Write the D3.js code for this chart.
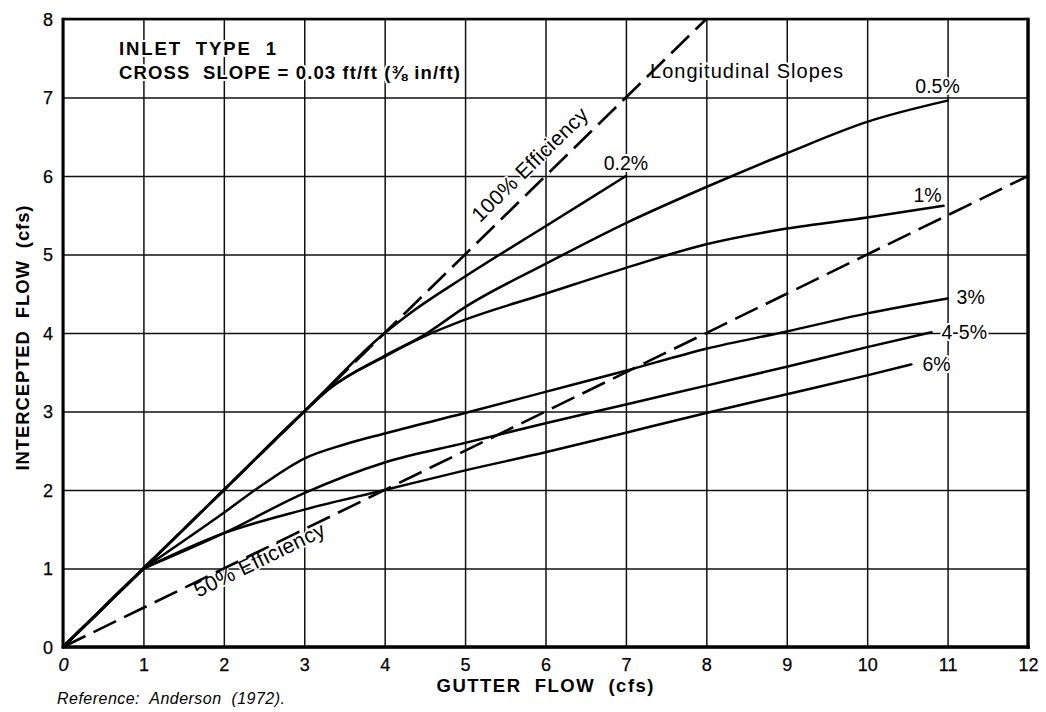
<!DOCTYPE html>
<html><head><meta charset="utf-8">
<script src="https://cdn.jsdelivr.net/npm/d3@7"></script>
<style>
html,body{margin:0;padding:0;background:#fff;}
svg{display:block;font-family:"Liberation Sans",Arial,Helvetica,sans-serif;}
</style></head><body>
<svg id="chart" width="1046" height="712"></svg>
<script>
// Axis ticks
const xTickValues = [0,1,2,3,4,5,6,7,8,9,10,11,12];
const yTickValues = [0,1,2,3,4,5,6,7,8];

// Intercepted flow (cfs) vs gutter flow (cfs), one curve per longitudinal slope
const slopeLabels = ["0.2%","0.5%","1%","3%","4-5%","6%"];
const slope02 = [[0,0],[1,1],[2,2],[3,3],[4,4],[4.3,4.24],[5,4.72],[6,5.36],[7,6.0]];
const slope05 = [[0,0],[1,1],[2,2],[3,3],[3.3,3.28],[4,3.71],[4.5,3.98],[5,4.33],[6,4.88],[7,5.4],[8,5.86],[9,6.29],[10,6.69],[11,6.96]];
const slope1  = [[0,0],[1,1],[2,2],[3,3],[3.3,3.28],[4,3.7],[4.5,3.96],[5,4.17],[6,4.5],[7,4.83],[8,5.13],[9,5.33],[10,5.47],[10.95,5.62]];
const slope3  = [[0,0],[1,1],[2,1.71],[2.5,2.08],[3,2.4],[3.5,2.58],[4,2.72],[5,2.98],[6,3.25],[7,3.52],[8,3.8],[9,4.02],[10,4.25],[11,4.44]];
const slope45 = [[0,0],[1,1],[2,1.45],[3,1.96],[4,2.35],[5,2.6],[6,2.85],[7,3.09],[8,3.33],[9,3.57],[10,3.82],[10.8,4.01]];
const slope6  = [[0,0],[1,1],[2,1.45],[3,1.75],[4,2.0],[5,2.25],[6,2.48],[7,2.73],[8,2.98],[9,3.22],[10,3.46],[10.55,3.6]];
const slopeSeries = [slope02, slope05, slope1, slope3, slope45, slope6];

// Reference efficiency lines
const efficiency100 = [[0,0],[8,8]];
const efficiency50  = [[0,0],[12,6]];

const svg = d3.select("#chart");
const plotLeft = 63, plotRight = 1028, plotTop = 19, plotBottom = 647;
const x = d3.scaleLinear().domain([0,12]).range([plotLeft, plotRight]);
const y = d3.scaleLinear().domain([0,8]).range([plotBottom, plotTop]);

svg.append("rect").attr("width",1046).attr("height",712).attr("fill","#fff");

// Grid + tick labels
const gx = svg.append("g").attr("transform",`translate(0,${plotBottom})`)
  .call(d3.axisBottom(x).tickValues(xTickValues).tickFormat(d3.format("d"))
        .tickSizeInner(-(plotBottom-plotTop)).tickSizeOuter(0).tickPadding(11));
const gy = svg.append("g").attr("transform",`translate(${plotLeft},0)`)
  .call(d3.axisLeft(y).tickValues(yTickValues).tickFormat(d3.format("d"))
        .tickSizeInner(-(plotRight-plotLeft)).tickSizeOuter(0).tickPadding(10));
[gx, gy].forEach(g => {
  g.select(".domain").remove();
  g.selectAll(".tick line").attr("stroke","#111").attr("stroke-width",1.5);
  g.selectAll(".tick text").attr("fill","#000").attr("font-size",18)
    .attr("stroke","#000").attr("stroke-width",0.25)
    .attr("font-family",'"Liberation Sans",Arial,sans-serif');
});
gx.selectAll(".tick text").filter(d => d === 0).attr("font-style","italic");
gy.selectAll(".tick text").attr("dy","0.36em");

// Text helpers
const labels = svg.append("g");
function halo(sel, w) {
  return sel.attr("stroke","#fff").attr("stroke-width",w).attr("paint-order","stroke")
            .attr("stroke-linejoin","round");
}

// Title block
labels.append("text").attr("x",119).attr("y",55)
  .attr("font-size",18.5).attr("font-weight","bold").style("white-space","pre")
  .attr("textLength",157).attr("lengthAdjust","spacing")
  .text("INLET  TYPE  1").call(halo,4);
labels.append("text").attr("x",119).attr("y",79)
  .attr("font-size",18.5).attr("font-weight","bold").style("white-space","pre")
  .attr("textLength",341).attr("lengthAdjust","spacing")
  .text("CROSS  SLOPE = 0.03 ft/ft (⅜ in/ft)").call(halo,4);

labels.append("text").attr("x",650).attr("y",78)
  .attr("font-size",20).attr("textLength",193).attr("lengthAdjust","spacing")
  .text("Longitudinal Slopes").call(halo,4);

// Slope labels placed next to each curve end
const labelOffsets = [[0,-6,"middle"],[-10,-8,"middle"],[-2,-4,"end"],[9,6,"start"],[10,7,"start"],[11,7,"start"]];
slopeSeries.forEach((s,i) => {
  const end = s[s.length-1];
  const o = labelOffsets[i];
  labels.append("text").attr("x",x(end[0])+o[0]).attr("y",y(end[1])+o[1])
    .attr("font-size",19.5).attr("text-anchor",o[2]).text(slopeLabels[i]).call(halo,4);
});

// Efficiency labels written along their lines
function lineLabel(ln, t, offset, text, len) {
  const p0 = ln[0], p1 = ln[1];
  const dxs = x(p1[0]) - x(p0[0]), dys = y(p1[1]) - y(p0[1]);
  const L = Math.hypot(dxs, dys);
  const ux = dxs/L, uy = dys/L;
  const nx = -uy, ny = ux; // normal pointing below the line on screen
  const fx = x(p0[0] + t*(p1[0]-p0[0])), fy = y(p0[1] + t*(p1[1]-p0[1]));
  const px = fx + offset*nx, py = fy + offset*ny;
  const ang = Math.atan2(dys, dxs)*180/Math.PI;
  labels.append("text").attr("transform",`translate(${px},${py}) rotate(${ang})`)
    .attr("font-size",21).attr("textLength",len).attr("lengthAdjust","spacing")
    .text(text).call(halo,3);
}
lineLabel(efficiency100, 5.29/8, -12, "100% Efficiency", 153);
lineLabel(efficiency50, 1.6/12, 15, "50% Efficiency", 143);

// Axis titles
labels.append("text").attr("x",545).attr("y",692).attr("text-anchor","middle")
  .attr("font-size",18.5).attr("font-weight","bold").style("white-space","pre")
  .attr("textLength",217).attr("lengthAdjust","spacing")
  .text("GUTTER  FLOW  (cfs)");
labels.append("text").attr("transform","translate(29,338) rotate(-90)").attr("text-anchor","middle")
  .attr("font-size",18.5).attr("font-weight","bold").style("white-space","pre")
  .attr("textLength",265).attr("lengthAdjust","spacing")
  .text("INTERCEPTED  FLOW  (cfs)");

labels.append("text").attr("x",57).attr("y",704)
  .attr("font-size",16).attr("font-style","italic").style("white-space","pre")
  .attr("textLength",228).attr("lengthAdjust","spacing")
  .text("Reference:  Anderson  (1972).");

// Data lines: the first leg from the origin is straight, the rest is smoothed
const straight = d3.line().x(d => x(d[0])).y(d => y(d[1]));
const curve = d3.line().x(d => x(d[0])).y(d => y(d[1])).curve(d3.curveMonotoneX);
const marks = svg.append("g").attr("fill","none").attr("stroke","#000")
  .attr("stroke-linecap","round").attr("stroke-linejoin","round");
[efficiency100, efficiency50].forEach(d => {
  marks.append("path").attr("d", straight(d)).attr("stroke-width",2.6)
    .attr("stroke-linecap","butt").attr("stroke-dasharray","25,9");
});
slopeSeries.forEach(s => {
  marks.append("path").attr("d", straight(s.slice(0,2))).attr("stroke-width",2.5);
  marks.append("path").attr("d", curve(s.slice(1))).attr("stroke-width",2.5);
});

// Plot frame
const frame = svg.append("g").attr("stroke","#000").attr("fill","none");
frame.append("line").attr("x1",plotLeft).attr("x2",plotRight).attr("y1",plotTop).attr("y2",plotTop).attr("stroke-width",2.4);
frame.append("line").attr("x1",plotLeft).attr("x2",plotRight+1.7).attr("y1",plotBottom).attr("y2",plotBottom).attr("stroke-width",3.4);
frame.append("line").attr("x1",plotLeft).attr("x2",plotLeft).attr("y1",plotTop-1.2).attr("y2",plotBottom+1.7).attr("stroke-width",3);
frame.append("line").attr("x1",plotRight).attr("x2",plotRight).attr("y1",plotTop-1.2).attr("y2",plotBottom+1.7).attr("stroke-width",3.4);
</script>
</body></html>
